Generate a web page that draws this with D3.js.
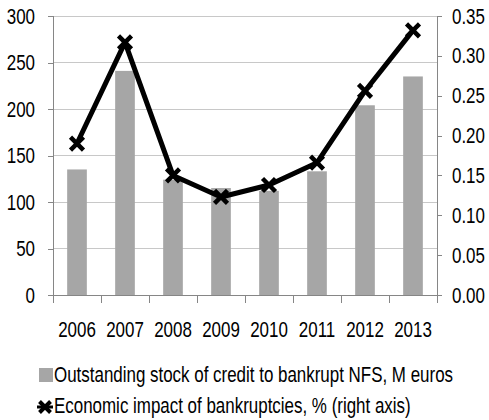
<!DOCTYPE html>
<html>
<head>
<meta charset="utf-8">
<script src="https://cdn.jsdelivr.net/npm/d3@7"></script>
<style>
  html, body { margin: 0; padding: 0; background: #fff; }
  svg text { font-family: "Liberation Sans", Arial, sans-serif; fill: #000; }
</style>
</head>
<body>
<svg id="chart" width="489" height="420"></svg>
<script>
const years = ["2006", "2007", "2008", "2009", "2010", "2011", "2012", "2013"];
const creditStock = [135, 241, 124, 115, 112, 133, 204, 235];
const economicImpact = [0.190, 0.317, 0.150, 0.123, 0.138, 0.166, 0.256, 0.332];
const leftTicks = [0, 50, 100, 150, 200, 250, 300];
const rightTicks = [0, 0.05, 0.10, 0.15, 0.20, 0.25, 0.30, 0.35];
const legendLabels = [
  "Outstanding stock of credit to bankrupt NFS, M euros",
  "Economic impact of bankruptcies, % (right axis)"
];

const svg = d3.select("#chart");
const m = { left: 53, right: 437, top: 16, bottom: 295 };
const fontSize = 22;
const sx = 0.77; // horizontal condensation to mimic a narrow face

function condense(sel) {
  sel.each(function () {
    const t = d3.select(this);
    const x0 = +t.attr("x") || 0;
    t.attr("x", 0).attr("transform", `translate(${x0},0) scale(${sx},1)`);
  });
}

const x = d3.scaleBand().domain(years).range([m.left, m.right]).paddingInner(0).paddingOuter(0);
const yL = d3.scaleLinear().domain([0, 300]).range([m.bottom, m.top]);
const yR = d3.scaleLinear().domain([0, 0.35]).range([m.bottom, m.top]);

// gridlines
svg.append("g").selectAll("line").data(leftTicks.filter(d => d > 0)).join("line")
  .attr("x1", m.left).attr("x2", m.right)
  .attr("y1", d => yL(d)).attr("y2", d => yL(d))
  .attr("stroke", "#c8c8c8").attr("stroke-width", 1).attr("shape-rendering", "crispEdges");

// bars
const barW = x.bandwidth() * 0.41;
svg.append("g").selectAll("rect").data(years).join("rect")
  .attr("x", (d) => x(d) + x.bandwidth() / 2 - barW / 2)
  .attr("width", barW)
  .attr("y", (d, i) => yL(creditStock[i]))
  .attr("height", (d, i) => yL(0) - yL(creditStock[i]))
  .attr("fill", "#a6a6a6");

// axes
const axisColor = "#868686";
const gL = svg.append("g").attr("transform", `translate(${m.left},0)`)
  .call(d3.axisLeft(yL).tickValues(leftTicks).tickSize(5).tickPadding(13).tickFormat(d3.format("d")));
const gR = svg.append("g").attr("transform", `translate(${m.right},0)`)
  .call(d3.axisRight(yR).tickValues(rightTicks).tickSize(5).tickPadding(10).tickFormat(d3.format(".2f")));
const xTickPos = d3.range(years.length + 1).map(i => m.left + i * x.bandwidth());
const gX = svg.append("g").attr("transform", `translate(0,${m.bottom})`)
  .call(d3.axisBottom(x).tickSize(0).tickPadding(30));
gX.selectAll(".tick text").attr("dy", 0).attr("y", 42);
gX.append("g").selectAll("line").data(xTickPos).join("line")
  .attr("x1", d => d).attr("x2", d => d).attr("y1", 0).attr("y2", 8)
  .attr("stroke", axisColor).attr("shape-rendering", "crispEdges");

[gL, gR, gX].forEach(g => {
  g.select(".domain").attr("stroke", axisColor).attr("shape-rendering", "crispEdges");
  g.selectAll(".tick line").attr("stroke", axisColor).attr("shape-rendering", "crispEdges");
  g.selectAll("text").attr("font-size", fontSize).attr("font-family", null).style("fill", "#000");
  condense(g.selectAll(".tick text"));
});
gL.select(".domain").attr("d", `M0,${m.top}V${m.bottom + 8}`);
gR.select(".domain").attr("d", `M0,${m.top}V${m.bottom + 8}`);
gX.select(".domain").attr("d", `M${m.left},0H${m.right}`);

// line series
const cx = d => x(d) + x.bandwidth() / 2;
const line = d3.line().x(d => cx(d)).y((d, i) => yR(economicImpact[i]));
svg.append("path").datum(years).attr("d", line)
  .attr("fill", "none").attr("stroke", "#000").attr("stroke-width", 5).attr("stroke-linejoin", "round");

const s = 6.5;
function xMarker(g, px, py) {
  g.append("path")
    .attr("d", `M${px - s},${py - s}L${px + s},${py + s}M${px - s},${py + s}L${px + s},${py - s}`)
    .attr("stroke", "#000").attr("stroke-width", 4.5).attr("fill", "none");
}
const gm = svg.append("g");
years.forEach((d, i) => xMarker(gm, cx(d), yR(economicImpact[i])));

// legend
const leg = svg.append("g");
leg.append("rect").attr("x", 39).attr("y", 368).attr("width", 14).attr("height", 14).attr("fill", "#a6a6a6");
leg.append("text").attr("x", 54).attr("y", 382).attr("font-size", fontSize).text(legendLabels[0]).call(condense);
leg.append("line").attr("x1", 37).attr("x2", 53).attr("y1", 407).attr("y2", 407).attr("stroke", "#000").attr("stroke-width", 3);
(function () {
  const px = 45, py = 407, r = 5.5;
  leg.append("path")
    .attr("d", `M${px - r},${py - r}L${px + r},${py + r}M${px - r},${py + r}L${px + r},${py - r}`)
    .attr("stroke", "#000").attr("stroke-width", 4).attr("fill", "none");
})();
leg.append("text").attr("x", 54).attr("y", 413).attr("font-size", fontSize).text(legendLabels[1]).call(condense);
</script>
</body>
</html>
